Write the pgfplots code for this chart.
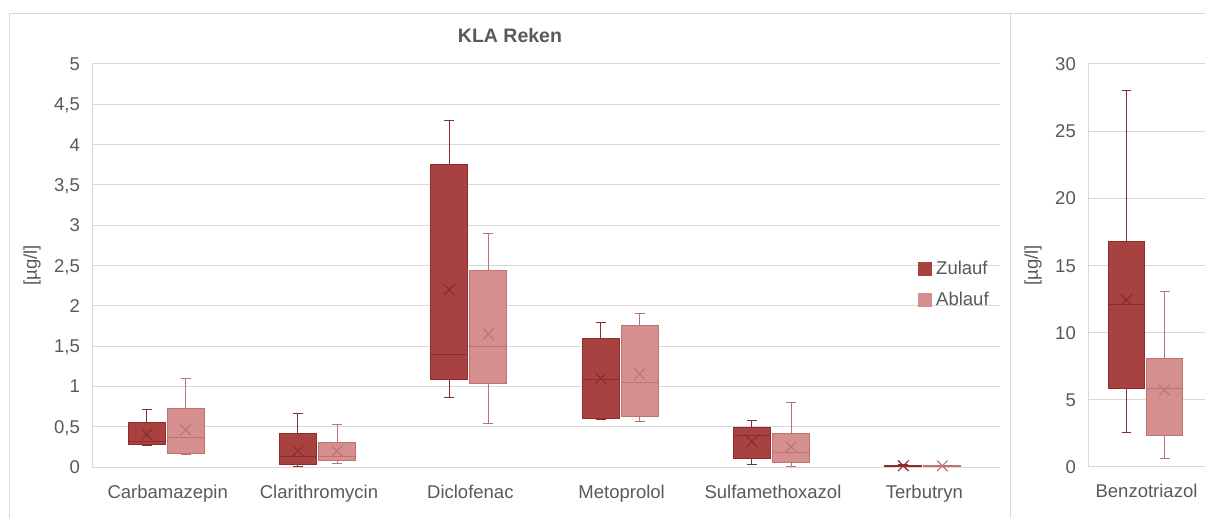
\documentclass[border=0pt]{standalone}
\usepackage{fontspec}
\setmainfont{Liberation Sans}
\usepackage{pgfplots}
\pgfplotsset{compat=1.18}
\usepgfplotslibrary{statistics}
\definecolor{txt}{RGB}{89,89,89}
\definecolor{gridc}{RGB}{217,217,217}
\definecolor{zfill}{RGB}{168,66,64}
\definecolor{zdraw}{RGB}{140,44,44}
\definecolor{afill}{RGB}{213,143,143}
\definecolor{adraw}{RGB}{190,114,114}
\newcommand{\lfont}{\fontsize{18.5bp}{22bp}\selectfont}
\pgfplotsset{
 common/.style={scale only axis, height=403bp, ymin=0,
   axis x line*=bottom, axis y line*=left,
   axis line style={gridc, -, line width=1bp},
   ymajorgrids, major grid style={gridc, line width=1bp},
   major tick length=0pt,
   tick label style={font=\lfont, text=txt},
   /pgf/number format/.cd, use comma, assume math mode=true, /pgfplots/.cd,
   yticklabel style={anchor=base east, inner sep=0pt, xshift=-12bp, yshift=-6.6bp},
   xticklabel style={anchor=base, inner sep=0pt, yshift=-31bp},
   ylabel={[µg/l]}, label style={font=\lfont, text=txt},
   boxplot/draw direction=y,
   clip=false,
 },
 zb/.style={boxplot prepared={#1}, fill=zfill, draw=zdraw, line width=1bp, solid, forget plot},
 ab/.style={boxplot prepared={#1}, fill=afill, draw=adraw, line width=1bp, solid, forget plot},
 zm/.style={only marks, mark=x, mark size=7.5bp, mark options={draw=zdraw, line width=1.1bp}, forget plot},
 am/.style={only marks, mark=x, mark size=7.5bp, mark options={draw=adraw, line width=1.1bp}, forget plot},
}
\begin{document}
\begin{tikzpicture}
\path[use as bounding box] (0,0) rectangle (1205bp,518bp);
\draw[gridc, line width=1bp] (9bp,0) -- (9bp,504bp) -- (1205bp,504bp);
\draw[gridc, line width=1bp] (1010.7bp,0) -- (1010.7bp,504bp);
\node[font=\fontsize{19.5bp}{23bp}\selectfont\bfseries, text=txt, anchor=base] at (510bp,475bp) {KLA Reken};

\begin{axis}[common, at={(92bp,51bp)}, anchor=south west, width=908bp,
  xmin=-0.5, xmax=5.5, ymax=5,
  ytick={0,0.5,1,1.5,2,2.5,3,3.5,4,4.5,5},
  xtick={0,1,2,3,4,5},
  xticklabels={Carbamazepin,Clarithromycin,Diclofenac,Metoprolol,Sulfamethoxazol,Terbutryn},
  ylabel style={at={(rel axis cs:-0.0661,0.5)}, anchor=center},
  legend style={at={(rel axis cs:0.9094,0.515)}, anchor=north west, draw=none, fill=none,
    inner sep=0pt, outer sep=0pt, row sep=12bp, column sep=0bp, font=\lfont, text=txt,
    cells={anchor=west}},
  ]
% Carbamazepin
\addplot[zb={lower whisker=0.27, lower quartile=0.273, median=0.32, upper quartile=0.558, upper whisker=0.715, draw position=-0.139, box extend=0.243, whisker extend=0.066}] coordinates {};
\addplot[ab={lower whisker=0.16, lower quartile=0.17, median=0.364, upper quartile=0.728, upper whisker=1.10, draw position=0.119, box extend=0.243, whisker extend=0.066}] coordinates {};
% Clarithromycin
\addplot[zb={lower whisker=0.012, lower quartile=0.037, median=0.128, upper quartile=0.41, upper whisker=0.666, draw position=0.861, box extend=0.243, whisker extend=0.066}] coordinates {};
\addplot[ab={lower whisker=0.046, lower quartile=0.078, median=0.136, upper quartile=0.306, upper whisker=0.533, draw position=1.119, box extend=0.243, whisker extend=0.066}] coordinates {};
% Diclofenac
\addplot[zb={lower whisker=0.86, lower quartile=1.08, median=1.39, upper quartile=3.75, upper whisker=4.30, draw position=1.861, box extend=0.243, whisker extend=0.066}] coordinates {};
\addplot[ab={lower whisker=0.54, lower quartile=1.03, median=1.49, upper quartile=2.44, upper whisker=2.90, draw position=2.119, box extend=0.243, whisker extend=0.066}] coordinates {};
% Metoprolol
\addplot[zb={lower whisker=0.59, lower quartile=0.60, median=1.09, upper quartile=1.60, upper whisker=1.79, draw position=2.861, box extend=0.243, whisker extend=0.066}] coordinates {};
\addplot[ab={lower whisker=0.56, lower quartile=0.63, median=1.046, upper quartile=1.75, upper whisker=1.90, draw position=3.119, box extend=0.243, whisker extend=0.066}] coordinates {};
% Sulfamethoxazol
\addplot[zb={lower whisker=0.025, lower quartile=0.10, median=0.385, upper quartile=0.49, upper whisker=0.583, draw position=3.861, box extend=0.243, whisker extend=0.066}] coordinates {};
\addplot[ab={lower whisker=0.004, lower quartile=0.053, median=0.18, upper quartile=0.418, upper whisker=0.80, draw position=4.119, box extend=0.243, whisker extend=0.066}] coordinates {};
% Terbutryn
\addplot[zb={lower whisker=0.005, lower quartile=0.008, median=0.012, upper quartile=0.02, upper whisker=0.025, draw position=4.861, box extend=0.243, whisker extend=0.066}] coordinates {};
\addplot[ab={lower whisker=0.004, lower quartile=0.007, median=0.01, upper quartile=0.018, upper whisker=0.022, draw position=5.119, box extend=0.243, whisker extend=0.066}] coordinates {};
% means
\addplot[zm] coordinates {(-0.139,0.405) (0.861,0.20) (1.861,2.20) (2.861,1.10) (3.861,0.314) (4.861,0.015)};
\addplot[am] coordinates {(0.119,0.46) (1.119,0.198) (2.119,1.65) (3.119,1.154) (4.119,0.25) (5.119,0.014)};
\addlegendimage{legend image code/.code={\fill[zfill] (0bp,-6.5bp) rectangle (13bp,6.5bp);}}
\addlegendentry{\,Zulauf}
\addlegendimage{legend image code/.code={\fill[afill] (0bp,-6.5bp) rectangle (13bp,6.5bp);}}
\addlegendentry{\,Ablauf}
\end{axis}

\begin{axis}[common, at={(1088bp,51bp)}, anchor=south west, width=117bp,
  xmin=-0.5, xmax=0.5, ymax=30,
  ytick={0,5,10,15,20,25,30},
  xtick={0}, xticklabels={Benzotriazol},
  ylabel style={at={(rel axis cs:-0.47,0.5)}, anchor=center},
  ]
\addplot[zb={lower whisker=2.57, lower quartile=5.85, median=12.1, upper quartile=16.8, upper whisker=28.0, draw position=-0.171, box extend=0.30, whisker extend=0.085}] coordinates {};
\addplot[ab={lower whisker=0.65, lower quartile=2.32, median=5.88, upper quartile=8.04, upper whisker=13.07, draw position=0.154, box extend=0.30, whisker extend=0.085}] coordinates {};
\addplot[zm] coordinates {(-0.171,12.45)};
\addplot[am] coordinates {(0.154,5.73)};
\end{axis}
\end{tikzpicture}
\end{document}
